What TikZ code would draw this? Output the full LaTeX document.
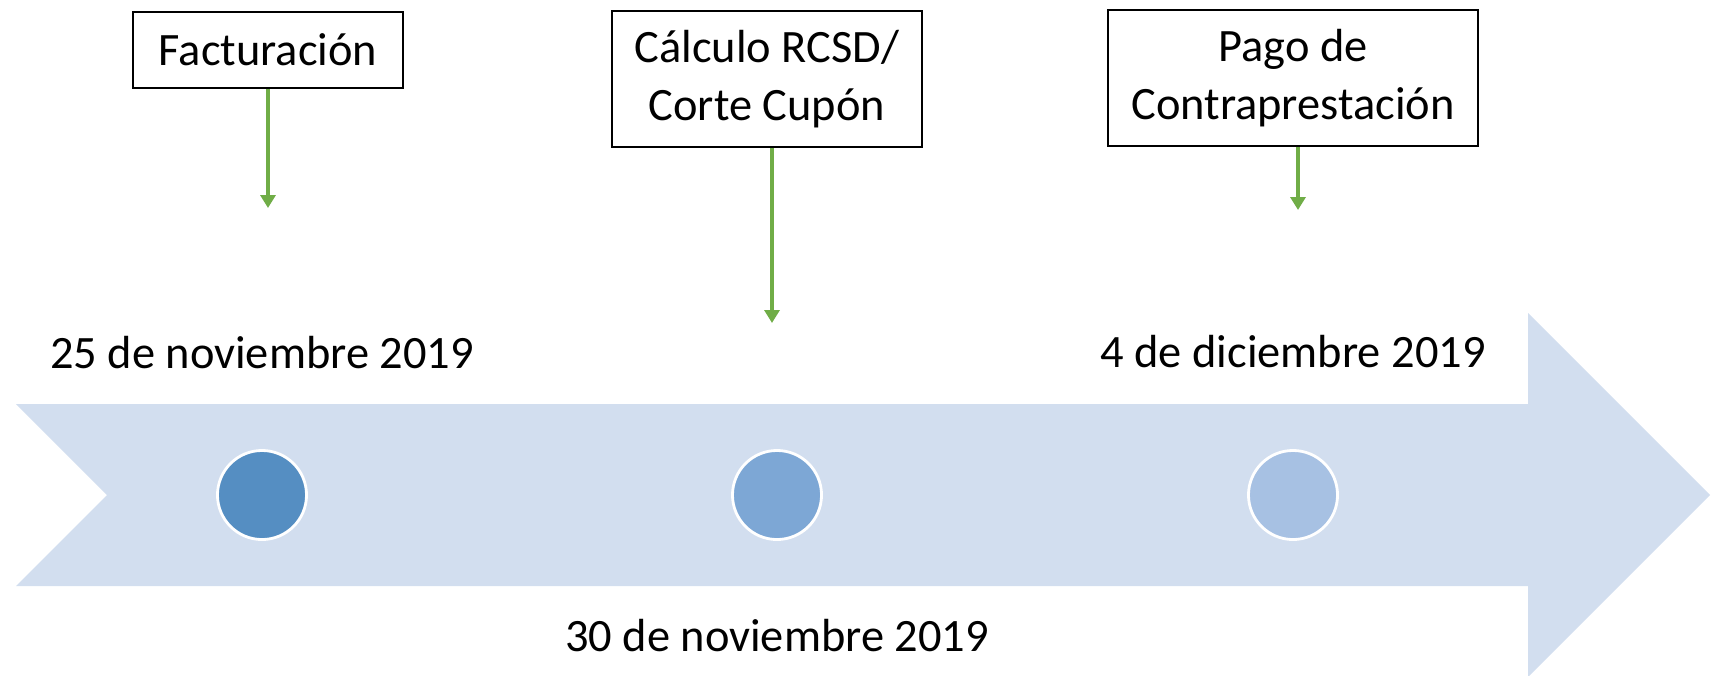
\documentclass[tikz,border=0pt]{standalone}
\usepackage{fontspec}
\setmainfont{Carlito}
\usepackage{xcolor}
\usetikzlibrary{arrows.meta,positioning,shapes}
\definecolor{bandbg}{HTML}{D2DEEF}
\definecolor{dotone}{HTML}{558EC2}
\definecolor{dottwo}{HTML}{7DA7D5}
\definecolor{dotthree}{HTML}{A7C1E3}
\definecolor{tickgreen}{HTML}{70AD47}
\tikzset{
  eventbox/.style={draw=black,fill=white,line width=0.7pt,
                   align=center,inner sep=3pt,
                   font=\fontsize{13.2}{16.5}\selectfont},
  datelabel/.style={inner sep=0pt,font=\fontsize{13.2}{16}\selectfont},
  daydot/.style={circle,draw=white,line width=0.8pt,
                 minimum size=0.89cm,inner sep=0pt},
  tickarr/.style={-{Triangle[length=1.3mm,width=1.5mm]},line width=1.1pt,color=tickgreen}
}

\begin{document}
\begin{tikzpicture}[x=0.01cm,y=-0.01cm]
  \useasboundingbox (0,0) rectangle (1712,675);

  % timeline band
  \fill[bandbg] (16,404) -- (1528,404) -- (1528,313) -- (1710,495)
    -- (1528,677) -- (1528,586) -- (16,586) -- (107,495) -- cycle;

  \node[daydot,fill=dotone] (d1) at (262,495) {};
  \node[daydot,fill=dottwo] (d2) at (777,495) {};
  \node[daydot,fill=dotthree] (d3) at (1293,495) {};

  \node[datelabel] (f1) at (262,353) {25 de noviembre 2019};
  \node[datelabel] (f2) at (777,636) {30 de noviembre 2019};
  \node[datelabel] (f3) at (1293,352) {4 de diciembre 2019};

  % events
  \node[eventbox,minimum width=2.70cm,minimum height=0.76cm] (fact) at (268,50) {Facturación};
  \node[eventbox,minimum width=3.10cm,minimum height=1.36cm] (rcsd) at (767,79) {Cálculo RCSD/\\Corte Cupón};
  \node[eventbox,minimum width=3.70cm,minimum height=1.36cm] (pago) at (1293,78) {Pago de\\Contraprestación};

  \coordinate (factend) at (268,208);
  \coordinate (rcsdend) at (772,323);
  \coordinate (pagoend) at (1298,210);
  \draw[tickarr] (fact.south -| factend) -- (factend);
  \draw[tickarr] (rcsd.south -| rcsdend) -- (rcsdend);
  \draw[tickarr] (pago.south -| pagoend) -- (pagoend);
\end{tikzpicture}
\end{document}
